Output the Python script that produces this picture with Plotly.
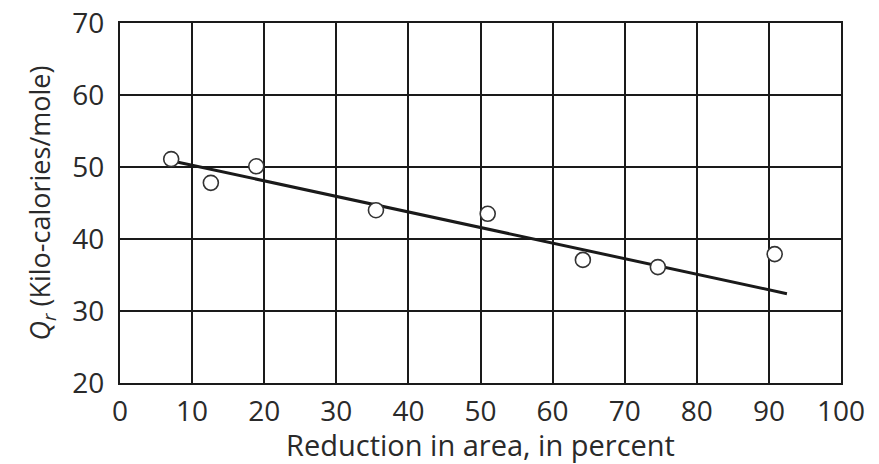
import plotly.graph_objects as go

reduction = [7.1, 12.6, 18.9, 35.5, 51.0, 64.2, 74.6, 90.8]
qr = [51.1, 47.8, 50.1, 44.0, 43.5, 37.1, 36.1, 37.9]
fit_x = [7.9, 92.5]
fit_y = [50.7, 32.4]
x_ticks = [0, 10, 20, 30, 40, 50, 60, 70, 80, 90, 100]
y_ticks = [20, 30, 40, 50, 60, 70]

fig = go.Figure()
fig.add_trace(go.Scatter(x=fit_x, y=fit_y, mode="lines",
                         line=dict(color="#1a1a1a", width=3), showlegend=False))
fig.add_trace(go.Scatter(x=reduction, y=qr, mode="markers",
                         marker=dict(symbol="circle", size=15, color="white",
                                     line=dict(color="#333333", width=1.6)),
                         showlegend=False))

font = "Open Sans, Noto Sans, sans-serif"
fig.update_layout(
    width=871, height=456,
    margin=dict(l=112, r=38, t=15, b=81),
    paper_bgcolor="white", plot_bgcolor="white",
    font=dict(family=font, color="#2a2a2a"),
    xaxis=dict(range=[0, 100], tickvals=x_ticks, showgrid=True, gridcolor="#1a1a1a",
               gridwidth=2, showline=True, linecolor="#1a1a1a", linewidth=2, mirror=True,
               zeroline=False, ticks="", tickfont=dict(size=28), automargin=False,
               ticklabelstandoff=2, ticklabeloverflow="allow",
               title=dict(text="Reduction in area, in percent", font=dict(size=29), standoff=2)),
    yaxis=dict(range=[20, 70], tickvals=y_ticks, showgrid=True, gridcolor="#1a1a1a",
               gridwidth=2, showline=True, linecolor="#1a1a1a", linewidth=2, mirror=True,
               zeroline=False, ticks="", tickfont=dict(size=28), automargin=False,
               ticklabelstandoff=8, ticklabeloverflow="allow",
               title=dict(text="<i>Q</i><sub><i>r</i></sub> (Kilo-calories/mole)",
                          font=dict(size=27), standoff=14)),
)
fig.write_html("out.html")
